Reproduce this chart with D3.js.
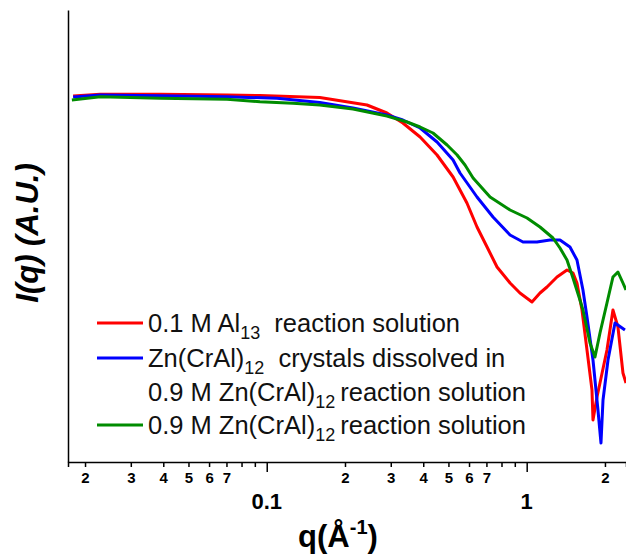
<!DOCTYPE html>
<html>
<head>
<meta charset="utf-8">
<title>I(q) vs q</title>
<script src="https://cdn.jsdelivr.net/npm/d3@7"></script>
<style>
  html, body { margin: 0; padding: 0; background: #fff; }
  svg { display: block; font-family: Arial, 'Liberation Sans', sans-serif; }
  .curve { fill: none; stroke-width: 3; stroke-linejoin: round; }
  .axis path, .axis line { stroke: #000; stroke-width: 1.5; }
</style>
</head>
<body>
<svg id="chart" width="626" height="556"></svg>
<script>
// q in 1/A, intensity in arbitrary units
var qAl13 = [0.0180, 0.0229, 0.0389, 0.0704, 0.0942, 0.160, 0.243, 0.290, 0.334, 0.389, 0.452, 0.521, 0.589, 0.644, 0.704, 0.769, 0.863, 0.942, 1.048, 1.125, 1.197, 1.308, 1.429, 1.507, 1.561, 1.632, 1.706, 1.783, 1.799, 1.864, 1.914, 2.036, 2.147, 2.244, 2.346, 2.410];
var iAl13 = [3.66, 3.677, 3.677, 3.67, 3.665, 3.645, 3.57, 3.49, 3.39, 3.25, 3.07, 2.85, 2.59, 2.35, 2.15, 1.95, 1.79, 1.69, 1.60, 1.69, 1.75, 1.85, 1.92, 1.89, 1.79, 1.52, 1.12, 0.72, 0.42, 0.65, 0.79, 1.12, 1.52, 1.35, 0.89, 0.79];

var qCrystals = [0.0180, 0.0229, 0.0389, 0.0704, 0.1095, 0.160, 0.2147, 0.290, 0.334, 0.389, 0.452, 0.521, 0.554, 0.605, 0.644, 0.742, 0.863, 0.968, 1.095, 1.229, 1.343, 1.467, 1.561, 1.646, 1.706, 1.799, 1.880, 1.931, 1.966, 2.055, 2.186, 2.388];
var iCrystals = [3.65, 3.67, 3.663, 3.653, 3.637, 3.595, 3.54, 3.47, 3.42, 3.34, 3.20, 3.02, 2.89, 2.75, 2.65, 2.45, 2.27, 2.20, 2.20, 2.22, 2.22, 2.15, 2.02, 1.72, 1.45, 1.02, 0.52, 0.19, 0.62, 1.02, 1.39, 1.32];

var qZn = [0.0178, 0.0229, 0.0389, 0.0704, 0.0942, 0.1262, 0.160, 0.2147, 0.290, 0.3465, 0.389, 0.436, 0.494, 0.540, 0.579, 0.622, 0.723, 0.863, 1.003, 1.125, 1.262, 1.343, 1.429, 1.507, 1.603, 1.646, 1.752, 1.831, 1.914, 2.036, 2.147, 2.244, 2.346, 2.410];
var iZn = [3.62, 3.653, 3.637, 3.627, 3.603, 3.587, 3.57, 3.53, 3.46, 3.40, 3.35, 3.29, 3.17, 3.07, 2.97, 2.84, 2.65, 2.52, 2.44, 2.35, 2.24, 2.14, 2.02, 1.84, 1.62, 1.52, 1.19, 1.05, 1.29, 1.59, 1.85, 1.90, 1.79, 1.72];

var seriesColors = ['#ff0000', '#0000ff', '#008c00'];

var minorTicks = [0.02, 0.03, 0.04, 0.05, 0.06, 0.07, 0.08, 0.09,
                  0.2, 0.3, 0.4, 0.5, 0.6, 0.7, 0.8, 0.9, 2];
var majorTicks = [0.1, 1];
var majorLabels = ['0.1', '1'];

// legend text pieces: [text, isSubscript]
var legendRows = [
  { color: 0, parts: [['0.1 M Al', 0], ['13', 1], ['  reaction solution', 0]] },
  { color: 1, parts: [['Zn(CrAl)', 0], ['12', 1], ['  crystals dissolved in', 0]] },
  { color: -1, parts: [['0.9 M Zn(CrAl)', 0], ['12', 1], ['reaction solution', 0]] },
  { color: 2, parts: [['0.9 M Zn(CrAl)', 0], ['12', 1], ['reaction solution', 0]] }
];

var svg = d3.select('#chart');
var padL = 68, padR = 626, padT = 10, padB = 462;

var x = d3.scaleLog().domain([0.0172, 2.41]).range([padL, padR]);
var y = d3.scaleLinear().domain([0, 4.52]).range([padB, padT]);

svg.append('defs').append('clipPath').attr('id', 'plotclip')
  .append('rect').attr('x', padL).attr('y', padT).attr('width', padR - padL).attr('height', padB - padT);

// curves
var line = d3.line().x(function(d) { return x(d[0]); }).y(function(d) { return y(d[1]); });
var sets = [[qAl13, iAl13], [qCrystals, iCrystals], [qZn, iZn]];
var plot = svg.append('g').attr('clip-path', 'url(#plotclip)');
sets.forEach(function(s, i) {
  var pts = d3.zip(s[0], s[1]);
  plot.append('path').datum(pts).attr('class', 'curve')
    .attr('stroke', seriesColors[i]).attr('d', line);
});

// x axis
var allTicks = minorTicks.concat(majorTicks);
var xAxis = d3.axisBottom(x).tickValues(allTicks).tickSizeOuter(0).tickSize(5)
  .tickFormat(function(d) {
    if (majorTicks.indexOf(d) >= 0) return '';
    var lead = Math.round(d / Math.pow(10, Math.floor(Math.log10(d) + 1e-9)));
    return lead <= 7 ? String(lead) : '';
  });
var gx = svg.append('g').attr('class', 'axis').attr('transform', 'translate(0,' + padB + ')').call(xAxis);
gx.selectAll('.tick').filter(function(d) { return majorTicks.indexOf(d) >= 0; })
  .select('line').attr('y2', 10);
gx.selectAll('.tick text').attr('y', 10).attr('dy', '0.71em')
  .style('font-size', '15px').style('font-weight', 'bold').style('font-family', 'Arial, Liberation Sans, sans-serif');

svg.selectAll('.major-label').data(majorTicks).enter().append('text')
  .attr('class', 'major-label')
  .attr('x', function(d) { return x(d); })
  .attr('y', 509)
  .attr('text-anchor', 'middle')
  .style('font-size', '22px').style('font-weight', 'bold')
  .text(function(d, i) { return majorLabels[i]; });

// y axis (no ticks)
svg.append('g').attr('class', 'axis').attr('transform', 'translate(' + padL + ',0)')
  .call(d3.axisLeft(y).tickValues([]).tickSizeOuter(0));

// axis titles
var xt = svg.append('text').attr('x', 338).attr('y', 547).attr('text-anchor', 'middle')
  .style('font-size', '31px').style('font-weight', 'bold');
xt.append('tspan').text('q(Å');
xt.append('tspan').attr('dy', -13).style('font-size', '20px').text('-1');
xt.append('tspan').attr('dy', 13).text(')');

svg.append('text')
  .attr('transform', 'translate(38,233) rotate(-90)')
  .attr('text-anchor', 'middle')
  .style('font-size', '31px').style('font-weight', 'bold').style('font-style', 'italic')
  .text('I(q) (A.U.)');

// legend
var legendY = [323, 358, 392, 425];
legendRows.forEach(function(r, i) {
  var yy = legendY[i];
  if (r.color >= 0) {
    svg.append('line').attr('x1', 97).attr('x2', 143).attr('y1', yy).attr('y2', yy)
      .attr('stroke', seriesColors[r.color]).attr('stroke-width', 3);
  }
  var t = svg.append('text').attr('x', 148).attr('y', yy + 9)
    .style('font-size', '25.5px').style('fill', '#111').style('white-space', 'pre');
  var sub = false;
  r.parts.forEach(function(p) {
    var ts = t.append('tspan').text(p[0]);
    if (p[1] && !sub) { ts.attr('dy', 7).style('font-size', '18px'); sub = true; }
    else if (!p[1] && sub) {
      ts.attr('dy', -7).attr('dx', p[0].charAt(0) === ' ' ? 0 : 5);
      sub = false;
    }
  });
});
</script>
</body>
</html>
